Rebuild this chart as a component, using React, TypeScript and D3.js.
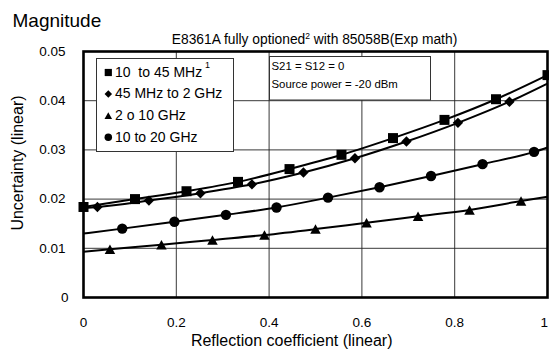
import React from 'react';
import * as d3 from 'd3';

const xTicks = [0, 0.2, 0.4, 0.6, 0.8, 1];
const xTickLabels = ['0', '0.2', '0.4', '0.6', '0.8', '1'];
const yTicks = [0, 0.01, 0.02, 0.03, 0.04, 0.05];
const yTickLabels = ['0', '0.01', '0.02', '0.03', '0.04', '0.05'];

const seriesNames = ['10  to 45 MHz', '45 MHz to 2 GHz', '2 o 10 GHz', '10 to 20 GHz'];
const seriesSymbols = ['square', 'diamond', 'triangle', 'circle'];

const squareX = [0, 0.111, 0.222, 0.333, 0.444, 0.556, 0.667, 0.778, 0.889, 1.0];
const squareY = [0.0184, 0.02, 0.0216, 0.0235, 0.0261, 0.029, 0.0324, 0.0361, 0.0403, 0.0452];

const diamondX = [0.03, 0.141, 0.252, 0.363, 0.474, 0.585, 0.696, 0.807, 0.918];
const diamondY = [0.0184, 0.0197, 0.0212, 0.023, 0.0254, 0.0283, 0.0317, 0.0355, 0.0398];

const triangleX = [0.057, 0.168, 0.278, 0.39, 0.5, 0.61, 0.721, 0.832, 0.943];
const triangleY = [0.0098, 0.0107, 0.0117, 0.0127, 0.0139, 0.0152, 0.0165, 0.0178, 0.0196];

const circleX = [0.0835, 0.196, 0.307, 0.416, 0.527, 0.638, 0.749, 0.86, 0.971];
const circleY = [0.014, 0.0154, 0.0168, 0.0183, 0.0203, 0.0224, 0.0247, 0.0271, 0.0296];

const lineStartY = [0.0184, 0.0182, 0.0093, 0.013];
const lineEndY = [0.0452, 0.0435, 0.0205, 0.0305];

const seriesX = [squareX, diamondX, triangleX, circleX];
const seriesY = [squareY, diamondY, triangleY, circleY];

const W = 549;
const H = 351;
const FONT = '"Liberation Sans", Arial, sans-serif';

function markerPath(kind: string, big: boolean): string {
  const k = big ? 1 : 0.72;
  if (kind === 'square') {
    const s = 10 * k;
    return `M${-s / 2},${-s / 2}h${s}v${s}h${-s}Z`;
  }
  if (kind === 'diamond') {
    const r = 5.2 * k;
    return `M0,${-r}L${r},0L0,${r}L${-r},0Z`;
  }
  if (kind === 'triangle') {
    const w = 10.5 * k;
    const h = 9.5 * k;
    return `M0,${-h / 2}L${w / 2},${h / 2}L${-w / 2},${h / 2}Z`;
  }
  const r = 5.2 * k;
  return `M${r},0A${r},${r},0,1,1,${-r},0A${r},${r},0,1,1,${r},0Z`;
}

export default function App() {
  const x = d3.scaleLinear().domain([0, 1]).range([83.5, 547.5]);
  const y = d3.scaleLinear().domain([0, 0.05]).range([297.5, 51.5]);

  const line = d3
    .line<[number, number]>()
    .x((d) => x(d[0]))
    .y((d) => y(d[1]))
    .curve(d3.curveMonotoneX);

  const linePts = seriesX.map((xs, i) => {
    const pts: [number, number][] = xs.map((v, j) => [v, seriesY[i][j]] as [number, number]);
    if (xs[0] > 0) pts.unshift([0, lineStartY[i]]);
    if (xs[xs.length - 1] < 1) pts.push([1, lineEndY[i]]);
    return pts;
  });

  const legendBase = [76.7, 98.3, 119.9, 141.5];

  return (
    <svg
      width={W}
      height={H}
      style={{ position: 'fixed', left: 0, top: 0, background: '#fff' }}
      fontFamily={FONT}
    >
      <rect x={0} y={0} width={W} height={H} fill="#fff" />
      <text x={12.5} y={26.7} fontSize={19} fill="#000">Magnitude</text>
      <text x={314.5} y={44.3} fontSize={13.8} textAnchor="middle" fill="#000">
        E8361A fully optioned
        <tspan fontSize={8.5} dy={-5}>2</tspan>
        <tspan dy={5}> with 85058B(Exp math)</tspan>
      </text>

      {/* gridlines */}
      {xTicks.slice(1, -1).map((t) => (
        <line key={'gx' + t} x1={x(t)} x2={x(t)} y1={y(0.05)} y2={y(0)} stroke="#222" strokeWidth={0.9} />
      ))}
      {yTicks.slice(1, -1).map((t) => (
        <line key={'gy' + t} x1={x(0)} x2={x(1)} y1={y(t)} y2={y(t)} stroke="#222" strokeWidth={0.9} />
      ))}

      {/* tick labels */}
      {yTicks.map((t, i) => (
        <text key={'yl' + t} x={i === 0 ? 68.5 : 65.5} y={y(t) + 4.2} fontSize={13.5} textAnchor="end" fill="#000">
          {yTickLabels[i]}
        </text>
      ))}
      {xTicks.map((t, i) => (
        <text
          key={'xl' + t}
          x={i === xTicks.length - 1 ? 548 : x(t)}
          y={326.5}
          fontSize={13.5}
          textAnchor={i === xTicks.length - 1 ? 'end' : 'middle'}
          fill="#000"
        >
          {xTickLabels[i]}
        </text>
      ))}

      <text x={291.7} y={346} fontSize={16} textAnchor="middle" fill="#000">
        Reflection coefficient (linear)
      </text>
      <text transform="translate(23,163) rotate(-90)" fontSize={16} textAnchor="middle" fill="#000">
        Uncertainty (linear)
      </text>

      {/* legend box */}
      <rect x={96.5} y={58.5} width={137} height={93} fill="#fff" stroke="#333" strokeWidth={1} />
      {seriesNames.map((name, i) => (
        <g key={'lg' + i}>
          <path d={markerPath(seriesSymbols[i], false)} transform={`translate(108.3,${legendBase[i] - 4.2})`} fill="#000" />
          <text x={115} y={legendBase[i]} fontSize={14} fill="#000" style={{ whiteSpace: 'pre' }}>
            {name}
          </text>
        </g>
      ))}
      <text x={205} y={68.3} fontSize={9} fill="#000">1</text>

      {/* annotation box */}
      <rect x={269.5} y={56.5} width={161} height={43.5} fill="#fff" stroke="#333" strokeWidth={1} />
      <text x={271.5} y={70} fontSize={11.4} fill="#000">S21 = S12 = 0</text>
      <text x={271.5} y={88.3} fontSize={11.4} fill="#000">Source power = -20 dBm</text>

      {/* series */}
      {linePts.map((pts, i) => (
        <path key={'ln' + i} d={line(pts) || ''} fill="none" stroke="#000" strokeWidth={2} />
      ))}
      {seriesX.map((xs, i) =>
        xs.map((v, j) => (
          <path
            key={'mk' + i + '-' + j}
            d={markerPath(seriesSymbols[i], true)}
            transform={`translate(${x(v)},${y(seriesY[i][j])})`}
            fill="#000"
          />
        ))
      )}

      {/* plot border */}
      <rect x={x(0)} y={y(0.05)} width={x(1) - x(0)} height={y(0) - y(0.05)} fill="none" stroke="#000" strokeWidth={2.6} />
    </svg>
  );
}
